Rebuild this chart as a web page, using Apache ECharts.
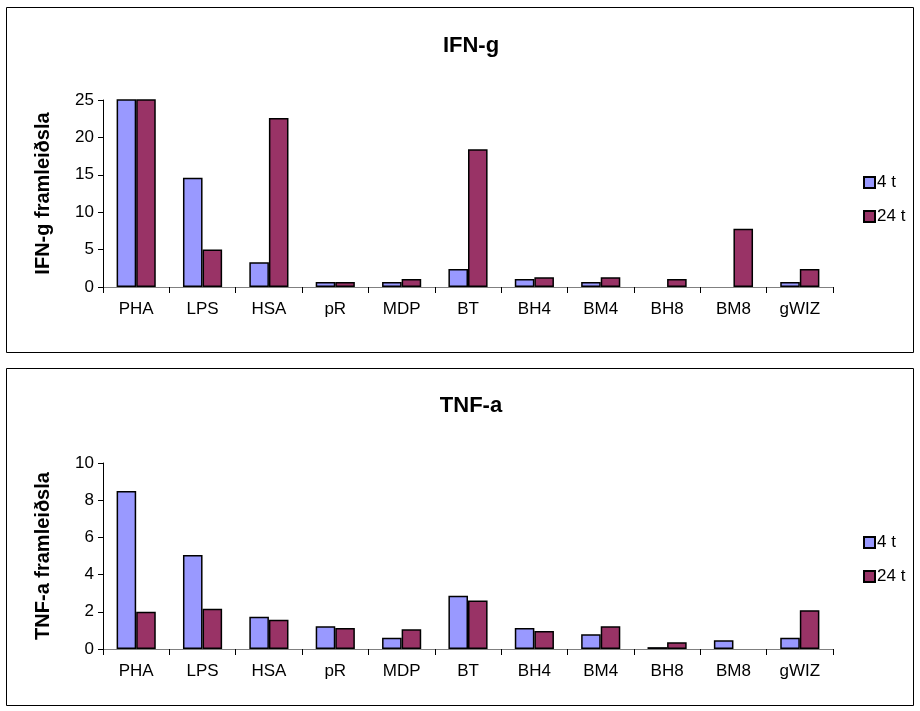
<!DOCTYPE html>
<html>
<head>
<meta charset="utf-8">
<script src="https://cdn.jsdelivr.net/npm/echarts@6/dist/echarts.min.js"></script>
<style>
  html, body { margin: 0; padding: 0; background: #fff; }
  #main { width: 920px; height: 711px; }
</style>
</head>
<body>
<div id="main"></div>
<script>
const categories = ['PHA', 'LPS', 'HSA', 'pR', 'MDP', 'BT', 'BH4', 'BM4', 'BH8', 'BM8', 'gWIZ']
const seriesNames = ['4 t', '24 t']
// IFN-g (PHA bars go off the top of the 0-25 axis), null = no bar drawn
const ifn4t = [40, 14.6, 3.3, 0.67, 0.67, 2.4, 1.07, 0.67, null, null, 0.67]
const ifn24t = [40, 5.0, 22.6, 0.67, 1.07, 18.4, 1.3, 1.3, 1.07, 7.8, 2.4]
// TNF-a
const tnf4t = [8.5, 5.05, 1.73, 1.22, 0.61, 2.86, 1.13, 0.79, 0.1, 0.47, 0.61]
const tnf24t = [2.0, 2.16, 1.57, 1.13, 1.06, 2.61, 0.97, 1.22, 0.36, null, 2.09]
const ifnTicks = { max: 25, interval: 5 }
const tnfTicks = { max: 10, interval: 2 }

const colors = ['#9999FF', '#993366']
const font = 'Liberation Sans, Arial, sans-serif'

function xAxis (gridIndex) {
  return {
    type: 'category',
    gridIndex: gridIndex,
    data: categories,
    boundaryGap: true,
    axisLine: { lineStyle: { color: '#808080', width: 1 } },
    axisTick: { show: true, length: 6, lineStyle: { color: '#000' } },
    axisLabel: { color: '#000', fontSize: 17, fontFamily: font, margin: 14 }
  }
}

function yAxis (gridIndex, name, ticks) {
  return {
    type: 'value',
    gridIndex: gridIndex,
    min: 0,
    max: ticks.max,
    interval: ticks.interval,
    name: name,
    nameLocation: 'middle',
    nameRotate: 90,
    nameGap: 50,
    nameTextStyle: { color: '#000', fontSize: 20, fontWeight: 'bold', fontFamily: font },
    axisLine: { show: true, lineStyle: { color: '#000', width: 1 } },
    axisTick: { show: true, length: 5, inside: false, lineStyle: { color: '#000' } },
    axisLabel: { color: '#000', fontSize: 17, fontFamily: font, margin: 9 },
    splitLine: { show: false }
  }
}

function barSeries (name, data, idx, axisIdx) {
  return {
    name: name,
    type: 'bar',
    xAxisIndex: axisIdx,
    yAxisIndex: axisIdx,
    data: data,
    clip: true,
    barGap: '0%',
    barCategoryGap: '41%',
    itemStyle: { color: colors[idx], borderColor: '#000', borderWidth: 1.5 }
  }
}

function legend (top) {
  return {
    orient: 'vertical',
    left: 858,
    top: top,
    itemWidth: 11,
    itemHeight: 11,
    itemGap: 17,
    icon: 'rect',
    data: seriesNames,
    textStyle: { color: '#000', fontSize: 17, fontFamily: font, padding: [0, 0, 0, -3] }
  }
}

let myChart = echarts.init(document.getElementById('main'))
let option = {
  animation: false,
  backgroundColor: '#fff',
  color: colors,
  graphic: [
    { type: 'rect', shape: { x: 6.5, y: 7.5, width: 907, height: 345 }, style: { fill: 'none', stroke: '#000', lineWidth: 1 }, silent: true },
    { type: 'rect', shape: { x: 6.5, y: 368.5, width: 907, height: 337 }, style: { fill: 'none', stroke: '#000', lineWidth: 1 }, silent: true }
  ],
  title: [
    { text: 'IFN-g', left: 466, top: 30, textAlign: 'center', textStyle: { fontSize: 22, fontWeight: 'bold', color: '#000', fontFamily: font } },
    { text: 'TNF-a', left: 466, top: 390, textAlign: 'center', textStyle: { fontSize: 22, fontWeight: 'bold', color: '#000', fontFamily: font } }
  ],
  legend: [legend(169), legend(529)],
  grid: [
    { left: 103, right: 87, top: 100, height: 187 },
    { left: 103, right: 87, top: 463, height: 186 }
  ],
  xAxis: [xAxis(0), xAxis(1)],
  yAxis: [yAxis(0, 'IFN-g framleiðsla', ifnTicks), yAxis(1, 'TNF-a framleiðsla', tnfTicks)],
  series: [
    barSeries(seriesNames[0], ifn4t, 0, 0),
    barSeries(seriesNames[1], ifn24t, 1, 0),
    barSeries(seriesNames[0], tnf4t, 0, 1),
    barSeries(seriesNames[1], tnf24t, 1, 1)
  ]
}
myChart.setOption(option)
</script>
</body>
</html>
